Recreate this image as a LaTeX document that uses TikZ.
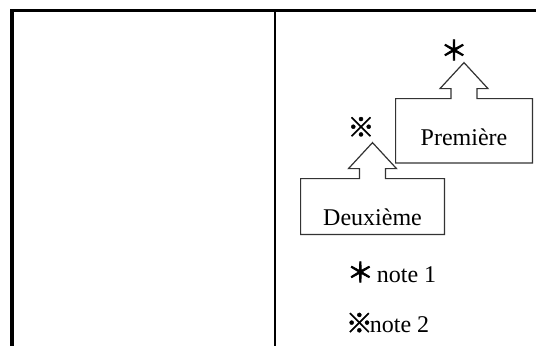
\documentclass[tikz,border=0pt]{standalone}
\usepackage{fontspec}
\setmainfont{Liberation Serif}
\newfontfamily\cjk[FakeBold=1.5]{Noto Sans CJK JP}
\newfontfamily\cjkgras[FakeBold=2.5]{Noto Sans CJK JP}
\begin{document}
\begin{tikzpicture}[x=0.5pt,y=-0.5pt,
		cadre/.style={inner sep=0pt},
		contour/.style={draw=black!80,line width=0.6pt,fill=white},
		texte/.style={inner sep=0pt,font=\fontsize{12}{14}\selectfont},
		signe/.style={inner sep=0pt,font=\fontsize{13.5}{14}\selectfont}]
	\useasboundingbox (0,0) rectangle (536,345);
	% fleche sur le haut d'une boite
	\def\fleche#1{\draw[contour] (#1.north) ++(-13,0) -- ++(0,-10) -- ++(-11,0) -- ++(24,-26) -- ++(24,26) -- ++(-11,0) -- ++(0,10) -| (#1.south east) -| (#1.north west) -- cycle;}
	\draw[line width=1.5pt] (10,10.5) -- (537,10.5);
	\draw[line width=2pt] (12,9) -- (12,346);
	\draw[line width=1.25pt] (275,9) -- (275,346);
	\node[cadre,minimum width=68pt,minimum height=31.75pt] (prem) at (464,130.75) {};
	\node[cadre,minimum width=71.5pt,minimum height=27.5pt] (deux) at (372.5,206.5) {};
	\fleche{prem}
	\fleche{deux}
	\node[texte] (premtxt) at ([yshift=-3.5pt]prem.center) {Première};
	\node[texte] (deuxtxt) at ([yshift=-5.5pt]deux.center) {Deuxième};
	\node[signe] (etoile) at (454,50) {\cjkgras ＊};
	\node[signe] (renvoi) at (361,127) {\cjk ※};
	\node[texte] (note1) at (391.5,272) {{\fontsize{13.5}{14}\cjkgras ＊}\hspace{1.5pt}note 1};
	\node[texte] (note2) at (387.5,323) {{\fontsize{13.5}{14}\cjk ※}\hspace{-1.5pt}note 2};
\end{tikzpicture}
\end{document}
